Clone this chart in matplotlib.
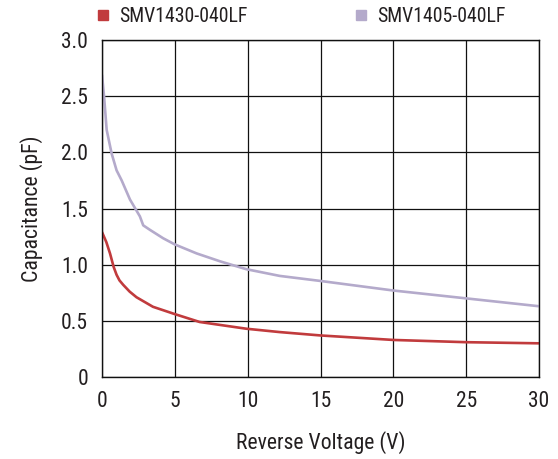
import matplotlib
matplotlib.use("Agg")
import matplotlib.pyplot as plt
from matplotlib.lines import Line2D

# Capacitance vs reverse voltage
v_1430 = [0, 0.3, 0.55, 0.8, 1.0, 1.2, 1.46, 1.9, 2.37, 3.5, 5.0, 6.7, 9.9, 12.2, 15.0, 20.0, 25.0, 30.0]
c_1430 = [1.29, 1.20, 1.10, 0.98, 0.91, 0.86, 0.82, 0.76, 0.71, 0.625, 0.56, 0.49, 0.43, 0.40, 0.37, 0.33, 0.31, 0.30]

v_1405 = [0, 0.14, 0.32, 0.66, 1.0, 1.35, 1.92, 2.6, 2.83, 3.29, 4.2, 5.0, 6.5, 8.1,
          9.9, 12.2, 15.0, 20.0, 25.0, 30.0]
c_1405 = [2.69, 2.50, 2.20, 1.99, 1.84, 1.75, 1.58, 1.43, 1.35, 1.31, 1.235, 1.18, 1.10, 1.03,
          0.96, 0.90, 0.855, 0.77, 0.70, 0.63]

x_ticks = [0, 5, 10, 15, 20, 25, 30]
y_ticks = [0, 0.5, 1.0, 1.5, 2.0, 2.5, 3.0]
y_tick_labels = ["0", "0.5", "1.0", "1.5", "2.0", "2.5", "3.0"]

red = "#c13b3d"
purple = "#b4aacb"
text_col = "#231f20"

plt.rcParams['font.family'] = ['Roboto Condensed', 'Liberation Sans Narrow', 'Roboto', 'DejaVu Sans']

fig = plt.figure(figsize=(5.58, 4.59), dpi=100)
ax = fig.add_axes([0.1828, 0.1786, 0.7832, 0.7343])

ax.plot(v_1430, c_1430, color=red, lw=1.9, solid_capstyle='butt')
ax.plot(v_1405, c_1405, color=purple, lw=1.9, solid_capstyle='butt')

ax.set_xlim(0, 30)
ax.set_ylim(0, 3.0)
ax.set_xticks(x_ticks)
ax.set_yticks(y_ticks)
ax.set_yticklabels(y_tick_labels)
ax.tick_params(length=0, colors=text_col, labelsize=15.5)
ax.tick_params(axis='y', pad=10)
ax.tick_params(axis='x', pad=10)
ax.grid(True, color='#111111', lw=0.9)
ax.set_axisbelow(True)
for s in ax.spines.values():
    s.set_color('#111111')
    s.set_linewidth(1.0)

ax.set_xlabel("Reverse Voltage (V)", fontsize=15.7, color=text_col, labelpad=14)
ax.set_ylabel("Capacitance (pF)", fontsize=15.7, color=text_col, labelpad=13)

handles = [Line2D([], [], marker='s', ls='', color=red, markersize=7),
           Line2D([], [], marker='s', ls='', color=purple, markersize=7)]
fig.legend(handles, ["SMV1430-040LF", "SMV1405-040LF"], ncol=2, frameon=False,
           loc='center left', bbox_to_anchor=(0.135, 0.965), handletextpad=0.3,
           columnspacing=5.3, handlelength=1.0, fontsize=14.2, labelcolor=text_col)

fig.savefig("out.png", dpi=100)
